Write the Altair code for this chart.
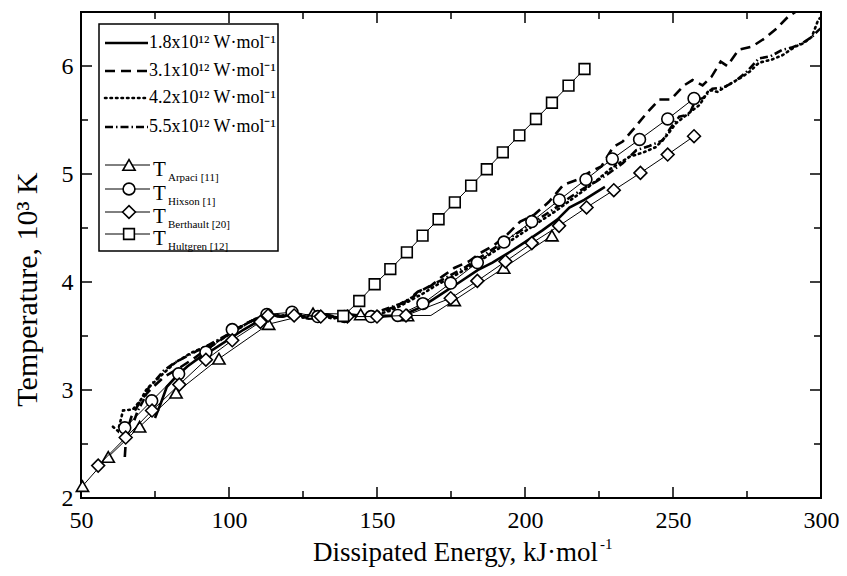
import altair as alt
import pandas as pd

FONT = "Liberation Serif"

# ---------------- data ----------------
# simulated curves
s18_x = [75, 77, 79, 82, 86, 90, 95, 100, 105, 110, 114, 118, 122, 127, 132, 137, 142, 147, 152, 157,
         161, 165, 169, 173, 178, 184, 189, 195, 200, 206, 211, 215, 220, 224, 227]
s18_y = [2.74, 2.88, 3.03, 3.12, 3.22, 3.30, 3.38, 3.47, 3.56, 3.64, 3.70, 3.68, 3.71, 3.66, 3.69, 3.67, 3.69, 3.66, 3.68, 3.69,
         3.72, 3.77, 3.84, 3.91, 4.00, 4.11, 4.18, 4.28, 4.37, 4.48, 4.58, 4.69, 4.76, 4.83, 4.88]

s31_x = [64.8, 65.3, 67, 70.3, 74, 78, 83, 88, 92, 97, 101, 106, 110, 114, 118, 123, 128, 133, 138, 143,
         148, 152, 156, 160.4, 163.8, 168, 172, 176.1, 181, 185, 189.5, 194, 198.4, 203, 208, 213, 218, 222,
         225.8, 229.8, 233, 236.5, 241, 245.4, 249.3, 253.7, 256.6, 260, 263, 266.1, 268.3, 272.2, 276.7,
         281.2, 285.1, 289, 293, 297]
s31_y = [2.38, 2.60, 2.75, 2.91, 3.02, 3.12, 3.20, 3.29, 3.37, 3.46, 3.54, 3.62, 3.67, 3.71, 3.68, 3.71, 3.67, 3.70, 3.66, 3.69,
         3.70, 3.73, 3.77, 3.83, 3.91, 3.96, 4.05, 4.13, 4.19, 4.27, 4.34, 4.44, 4.56, 4.62, 4.74, 4.90, 4.95, 5.02,
         5.07, 5.25, 5.30, 5.41, 5.56, 5.69, 5.69, 5.82, 5.87, 5.82, 5.90, 6.04, 6.00, 6.15, 6.18,
         6.26, 6.35, 6.46, 6.53, 6.60]

s42_x = [60.8, 62.5, 64.2, 67.5, 70, 72, 76.5, 82.1, 87.7, 92, 96, 101, 105, 109, 113, 117, 121, 125, 130, 135,
         140, 145, 150, 154, 158, 162, 166, 170, 175, 180, 185, 190, 195, 200, 205, 210, 215, 220, 224.2, 229,
         235.3, 240, 244.3, 248, 251, 256.6, 259, 262.2, 265, 267.8, 273.4, 276, 279, 283.4, 287, 291.3, 294,
         296.9, 299.1, 300]
s42_y = [2.66, 2.62, 2.81, 2.82, 2.90, 3.00, 3.12, 3.26, 3.35, 3.40, 3.45, 3.53, 3.60, 3.66, 3.70, 3.68, 3.71, 3.67, 3.70, 3.66,
         3.69, 3.67, 3.70, 3.73, 3.78, 3.84, 3.90, 3.97, 4.04, 4.12, 4.20, 4.29, 4.38, 4.47, 4.56, 4.65, 4.75, 4.85, 4.94, 5.05,
         5.16, 5.20, 5.25, 5.36, 5.47, 5.59, 5.64, 5.78, 5.76, 5.81, 5.90, 5.95, 6.03, 6.06, 6.10, 6.18, 6.21,
         6.27, 6.43, 6.45]

s55_x = [68, 69.2, 71, 73, 75.5, 78, 81.5, 85.5, 89, 92, 96, 100, 104, 107, 110, 113, 117, 121, 125, 129,
         133, 137, 141, 145, 149, 152, 155, 158, 162, 165, 169, 172, 176, 180, 185, 190, 195, 200, 205, 210,
         215, 220, 224, 228, 233, 237.6, 242, 246.5, 249, 252.1, 255.5, 257.7, 260, 263.3, 267, 271.1, 275,
         279, 283, 286.9, 290, 293.6, 297, 299.1, 300]
s55_y = [2.72, 2.81, 2.90, 3.03, 3.10, 3.18, 3.25, 3.31, 3.36, 3.40, 3.46, 3.52, 3.58, 3.63, 3.67, 3.70, 3.68, 3.71, 3.68, 3.66,
         3.69, 3.67, 3.70, 3.68, 3.71, 3.74, 3.77, 3.80, 3.86, 3.92, 3.98, 4.02, 4.08, 4.14, 4.23, 4.32, 4.41, 4.50, 4.59, 4.68,
         4.78, 4.87, 4.93, 5.00, 5.10, 5.22, 5.26, 5.31, 5.42, 5.53, 5.55, 5.69, 5.70, 5.79, 5.80, 5.86, 5.95,
         6.07, 6.09, 6.15, 6.17, 6.21, 6.27, 6.33, 6.35]

# reference data sets
arp_x = [50.5, 59.2, 69.8, 82.1, 96.6, 113.4, 128.4, 144.5, 160.3, 168.2, 176.1, 192.8, 209.1]
arp_y = [2.11, 2.38, 2.66, 2.975, 3.29, 3.61, 3.71, 3.70, 3.69, 3.69, 3.83, 4.13, 4.43]
arp_mark = [1, 1, 1, 1, 1, 1, 1, 1, 1, 0, 1, 1, 1]

hix_x = [64.8, 73.9, 83.0, 92.2, 101.1, 112.8, 121.3, 130.0, 139.0, 148.0, 157.0, 165.5, 174.9, 183.9,
         192.9, 202.3, 211.6, 220.6, 229.5, 238.7, 248.2, 257.1]
hix_y = [2.65, 2.90, 3.15, 3.35, 3.56, 3.70, 3.72, 3.68, 3.68, 3.68, 3.69, 3.80, 3.99, 4.18,
         4.37, 4.56, 4.76, 4.95, 5.14, 5.32, 5.51, 5.70]

ber_x = [55.8, 65.1, 74.0, 83.2, 92.2, 101.1, 110.6, 113.2, 122.0, 131.0, 140.0, 150.0, 159.8, 174.9,
         183.9, 193.4, 202.3, 211.5, 220.8, 230.0, 239.0, 248.2, 257.1]
ber_y = [2.30, 2.56, 2.81, 3.05, 3.28, 3.46, 3.63, 3.69, 3.69, 3.68, 3.68, 3.68, 3.69, 3.85,
         4.01, 4.19, 4.36, 4.52, 4.69, 4.85, 5.01, 5.18, 5.35]

hul_x = [138.6, 144.0, 149.2, 154.5, 160.1, 165.4, 170.8, 176.3, 181.8, 187.1, 192.5, 198.1, 203.7,
         209.1, 214.7, 220.1]
hul_y = [3.685, 3.824, 3.979, 4.120, 4.275, 4.429, 4.581, 4.738, 4.892, 5.044, 5.201, 5.358, 5.509,
         5.660, 5.818, 5.972]

x_major = [50, 100, 150, 200, 250, 300]
x_minor = [75, 125, 175, 225, 275]
y_major = [2, 3, 4, 5, 6]
y_minor = [2.5, 3.5, 4.5, 5.5]

line_labels = ["1.8x10¹² W·mol⁻¹", "3.1x10¹² W·mol⁻¹", "4.2x10¹² W·mol⁻¹", "5.5x10¹² W·mol⁻¹"]
ref_subs = ["Arpaci [11]", "Hixson [1]", "Berthault [20]", "Hultgren [12]"]

x_title_main = "Dissipated Energy, kJ·mol"
x_title_sup = "-1"
y_title = "Temperature, 10³ K"

# ---------------- chart ----------------
W, H = 740, 486
xsc = alt.Scale(domain=[50, 300], nice=False, zero=False)
ysc = alt.Scale(domain=[2, 6.5], nice=False, zero=False)

xax = alt.Axis(values=x_major, title=None, ticks=False, domain=False, grid=False,
               labelFont=FONT, labelFontSize=24, labelPadding=10, labelFlush=False,
               labelOverlap=False, format="d")
yax = alt.Axis(values=y_major, title=y_title, ticks=False, domain=False, grid=False,
               labelFont=FONT, titleFont=FONT,
               labelFontSize=24, labelPadding=8, labelFlush=False, labelOverlap=False,
               titleFontSize=30, titleX=-45, titleY=277, titleBaseline="alphabetic",
               titleAlign="center", titleAngle=270, format="d")


def X():
    return alt.X("x:Q", scale=xsc, axis=xax)


def Y():
    return alt.Y("y:Q", scale=ysc, axis=yax)


layers = []

# inward ticks on four sides
for vals, ln in ((x_major, 11), (x_minor, 7)):
    d = pd.DataFrame({"x": vals})
    layers.append(alt.Chart(d).mark_rule(color="black", strokeWidth=1.5).encode(
        x=X(), y=alt.value(H), y2=alt.value(H - ln)))
    layers.append(alt.Chart(d).mark_rule(color="black", strokeWidth=1.5).encode(
        x=X(), y=alt.value(0), y2=alt.value(ln)))
for vals, ln in ((y_major, 11), (y_minor, 7)):
    d = pd.DataFrame({"y": vals})
    layers.append(alt.Chart(d).mark_rule(color="black", strokeWidth=1.5).encode(
        y=Y(), x=alt.value(0), x2=alt.value(ln)))
    layers.append(alt.Chart(d).mark_rule(color="black", strokeWidth=1.5).encode(
        y=Y(), x=alt.value(W), x2=alt.value(W - ln)))

sim = [
    (s18_x, s18_y, None, "butt"),
    (s31_x, s31_y, [10, 6], "butt"),
    (s42_x, s42_y, [1.5, 4], "round"),
    (s55_x, s55_y, [8, 3, 1.5, 3], "butt"),
]
for xs, ys, dash, cap in sim:
    kw = dict(clip=True, color="black", strokeWidth=2.6, strokeCap=cap)
    if dash:
        kw["strokeDash"] = dash
    layers.append(alt.Chart(pd.DataFrame({"x": xs, "y": ys})).mark_line(**kw).encode(x=X(), y=Y()))

refs = [
    (arp_x, arp_y, arp_mark, "triangle-up", 150),
    (hix_x, hix_y, None, "circle", 140),
    (ber_x, ber_y, None, "diamond", 165),
    (hul_x, hul_y, None, "square", 115),
]
for xs, ys, mk, shape, size in refs:
    d = pd.DataFrame({"x": xs, "y": ys, "m": mk if mk else [1] * len(xs)})
    layers.append(alt.Chart(d).mark_line(clip=True, color="black", strokeWidth=1).encode(x=X(), y=Y()))
    layers.append(alt.Chart(d).transform_filter("datum.m == 1").mark_point(
        shape=shape, size=size, filled=True, fill="white", stroke="black", strokeWidth=1.6,
        opacity=1).encode(x=X(), y=Y()))

one = pd.DataFrame({"a": [0]})

# x-axis title with superscript
layers.append(alt.Chart(pd.DataFrame({"t": [x_title_main]})).mark_text(
    align="right", baseline="alphabetic", font=FONT, fontSize=27, color="black").encode(
    text="t:N", x=alt.value(517), y=alt.value(549)))
layers.append(alt.Chart(pd.DataFrame({"t": [x_title_sup]})).mark_text(
    align="left", baseline="alphabetic", font=FONT, fontSize=15, color="black").encode(
    text="t:N", x=alt.value(519), y=alt.value(537)))

# legend (drawn)
layers.append(alt.Chart(one).mark_rect(fill="white", stroke="black", strokeWidth=1.5).encode(
    x=alt.value(18), x2=alt.value(197), y=alt.value(12), y2=alt.value(239)))

row_y = [31, 59, 86, 115]
for (xs, ys, dash, cap), lab, ry in zip(sim, line_labels, row_y):
    kw = dict(color="black", strokeWidth=2.6, strokeCap=cap)
    if dash:
        kw["strokeDash"] = dash
    layers.append(alt.Chart(one).mark_rule(**kw).encode(
        x=alt.value(24), x2=alt.value(67), y=alt.value(ry)))
    layers.append(alt.Chart(pd.DataFrame({"t": [lab]})).mark_text(
        align="left", baseline="middle", font=FONT, fontSize=18, color="black").encode(
        text="t:N", x=alt.value(68), y=alt.value(ry)))

ref_y = [153, 177, 200, 222]
for (xs, ys, mk, shape, size), sub, ry in zip(refs, ref_subs, ref_y):
    layers.append(alt.Chart(one).mark_rule(color="black", strokeWidth=1).encode(
        x=alt.value(24), x2=alt.value(69), y=alt.value(ry)))
    layers.append(alt.Chart(one).mark_point(
        shape=shape, size=size, filled=True, fill="white", stroke="black", strokeWidth=1.6,
        opacity=1).encode(x=alt.value(48), y=alt.value(ry)))
    layers.append(alt.Chart(pd.DataFrame({"t": ["T"]})).mark_text(
        align="left", baseline="middle", font=FONT, fontSize=21, color="black").encode(
        text="t:N", x=alt.value(72), y=alt.value(ry + 5)))
    layers.append(alt.Chart(pd.DataFrame({"t": [sub]})).mark_text(
        align="left", baseline="middle", font=FONT, fontSize=11, color="black").encode(
        text="t:N", x=alt.value(87), y=alt.value(ry + 13)))

chart = alt.layer(*layers).properties(
    width=W, height=H,
    background="white",
    autosize=alt.AutoSizeParams(type="none"),
    padding={"left": 73, "top": 4, "right": 18, "bottom": 70},
).configure_view(stroke="black", strokeWidth=2).configure_axis(
    labelFont=FONT, titleFont=FONT, labelColor="black", titleColor="black",
    titleFontWeight="normal",
)

chart.save("out.html", embed_options={"renderer": "svg", "actions": False})
